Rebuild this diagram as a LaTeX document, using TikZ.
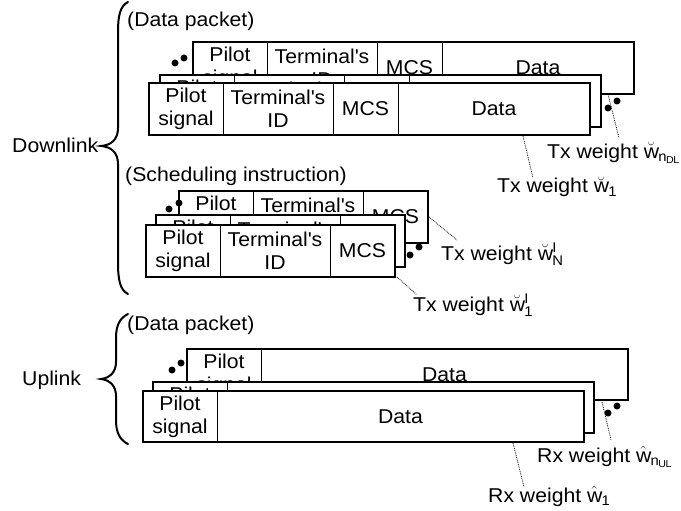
\documentclass[tikz,border=0pt]{standalone}
\usepackage{fontspec}
\setmainfont{Liberation Sans}[FakeStretch=1.06]
\setsansfont{Liberation Sans}[FakeStretch=1.06]
\usetikzlibrary{calc}
\newcommand{\cf}{\fontsize{20}{23}\selectfont}
\tikzset{
 frame/.style={draw, fill=white, line width=2.8pt, anchor=north west, outer sep=0pt, inner sep=0pt},
 div/.style={line width=1pt},
 cell/.style={inner sep=0pt, align=center, font=\cf},
 lbl/.style={inner sep=0pt, anchor=base west, font=\cf},
 dot/.style={circle, fill=black, inner sep=0pt, minimum size=7pt},
 lead/.style={densely dotted, line width=0.8pt},
 brace/.style={line width=2pt, line cap=round}
}
\newcommand{\dlframe}[3]{%
 \node[frame, minimum width=441pt, minimum height=52pt] (#1) at (#2,#3) {};
 \draw[div] ($(#1.north west)+(74,0)$) -- ($(#1.south west)+(74,0)$);
 \draw[div] ($(#1.north west)+(184,0)$) -- ($(#1.south west)+(184,0)$);
 \draw[div] ($(#1.north west)+(249,0)$) -- ($(#1.south west)+(249,0)$);
 \node[cell] (#1p) at ($(#1.north west)+(37,26)$) {Pilot\\signal};
 \node[cell] (#1t) at ($(#1.north west)+(129,26)$) {Terminal\textquotesingle s\\ID};
 \node[cell] (#1m) at ($(#1.north west)+(216.5,26)$) {MCS};
 \node[cell] (#1d) at ($(#1.north west)+(345,26)$) {Data};
}
\newcommand{\siframe}[3]{%
 \node[frame, minimum width=249pt, minimum height=52pt] (#1) at (#2,#3) {};
 \draw[div] ($(#1.north west)+(74,0)$) -- ($(#1.south west)+(74,0)$);
 \draw[div] ($(#1.north west)+(184,0)$) -- ($(#1.south west)+(184,0)$);
 \node[cell] (#1p) at ($(#1.north west)+(37,26)$) {Pilot\\signal};
 \node[cell] (#1t) at ($(#1.north west)+(129,26)$) {Terminal\textquotesingle s\\ID};
 \node[cell] (#1m) at ($(#1.north west)+(216.5,26)$) {MCS};
}
\newcommand{\ulframe}[3]{%
 \node[frame, minimum width=441pt, minimum height=51pt] (#1) at (#2,#3) {};
 \draw[div] ($(#1.north west)+(74,0)$) -- ($(#1.south west)+(74,0)$);
 \node[cell] (#1p) at ($(#1.north west)+(37,25.5)$) {Pilot\\signal};
 \node[cell] (#1d) at ($(#1.north west)+(257.5,25.5)$) {Data};
}
\begin{document}
\begin{tikzpicture}[x=1pt,y=-1pt]
\useasboundingbox (0,0) rectangle (681,511);
\fill[white] (0,0) rectangle (681,511);
% braces
\draw[brace] (128,2) .. controls (120,6) and (118,16) .. (118,32) -- (118,128)
  .. controls (118,140) and (111,145) .. (101,146)
  .. controls (111,147) and (118,152) .. (118,164) -- (118,262)
  .. controls (118,280) and (120,290) .. (128,294);
\draw[brace] (128,314) .. controls (120,318) and (116,325) .. (116,338) -- (116,362)
  .. controls (116,372) and (110,378) .. (101,379)
  .. controls (110,380) and (116,386) .. (116,396) -- (116,420)
  .. controls (116,433) and (120,440) .. (128,444);
\node[lbl] (dlL) at (12,153) {Downlink};
\node[lbl] (ulL) at (22,385) {Uplink};
\node[lbl] (dpA) at (127,27) {(Data packet)};
\node[lbl] (siA) at (125,181) {(Scheduling instruction)};
\node[lbl] (dpB) at (127,330) {(Data packet)};
% downlink data packet
\dlframe{dA}{193}{42}
\dlframe{dB}{160}{75}
\dlframe{dC}{149}{83}
\node[dot] (d1) at (175,63) {};
\node[dot] (d2) at (184,58) {};
\node[dot] (d3) at (608,108) {};
\node[dot] (d4) at (617,101) {};
% scheduling instruction
\siframe{sA}{179}{191}
\siframe{sB}{156}{215}
\siframe{sC}{146}{225}
\node[dot] (s1) at (169,209) {};
\node[dot] (s2) at (179,203) {};
\node[dot] (s3) at (410,255) {};
\node[dot] (s4) at (419,247) {};
% uplink
\ulframe{uA}{187}{349}
\ulframe{uB}{153}{382}
\ulframe{uC}{143}{391}
\node[dot] (u1) at (172,370) {};
\node[dot] (u2) at (181,363) {};
\node[dot] (u3) at (608,413) {};
\node[dot] (u4) at (617,406) {};
% weight labels
\node[lbl] (wDLn) at (547,158) {Tx weight $\breve{\mathrm{w}}_{\mathrm{n}_{\mathrm{DL}}}$};
\node[lbl] (wDL1) at (497,193) {Tx weight $\breve{\mathrm{w}}_{\mathrm{1}}$};
\node[lbl] (wSIN) at (441,260) {Tx weight $\breve{\mathrm{w}}^{\mathrm{I}}_{\mathrm{N}}$};
\node[lbl] (wSI1) at (413,311) {Tx weight $\breve{\mathrm{w}}^{\mathrm{I}}_{\mathrm{1}}$};
\node[lbl] (wULn) at (537,462) {Rx weight $\hat{\mathrm{w}}_{\mathrm{n}_{\mathrm{UL}}}$};
\node[lbl] (wUL1) at (488,502) {Rx weight $\hat{\mathrm{w}}_{\mathrm{1}}$};
% leaders
\coordinate (a1s) at (608,94);  \coordinate (a1e) at (619,138);
\coordinate (a2s) at (523,136); \coordinate (a2e) at (533,178);
\coordinate (a3s) at (429,217); \coordinate (a3e) at (457,240);
\coordinate (a4s) at (397,277); \coordinate (a4e) at (417,295);
\coordinate (a5s) at (602,402); \coordinate (a5e) at (611,440);
\coordinate (a6s) at (513,443); \coordinate (a6e) at (524,487);
\draw[lead] (a1s) -- (a1e);
\draw[lead] (a2s) -- (a2e);
\draw[lead] (a3s) -- (a3e);
\draw[lead] (a4s) -- (a4e);
\draw[lead] (a5s) -- (a5e);
\draw[lead] (a6s) -- (a6e);
\end{tikzpicture}
\end{document}
